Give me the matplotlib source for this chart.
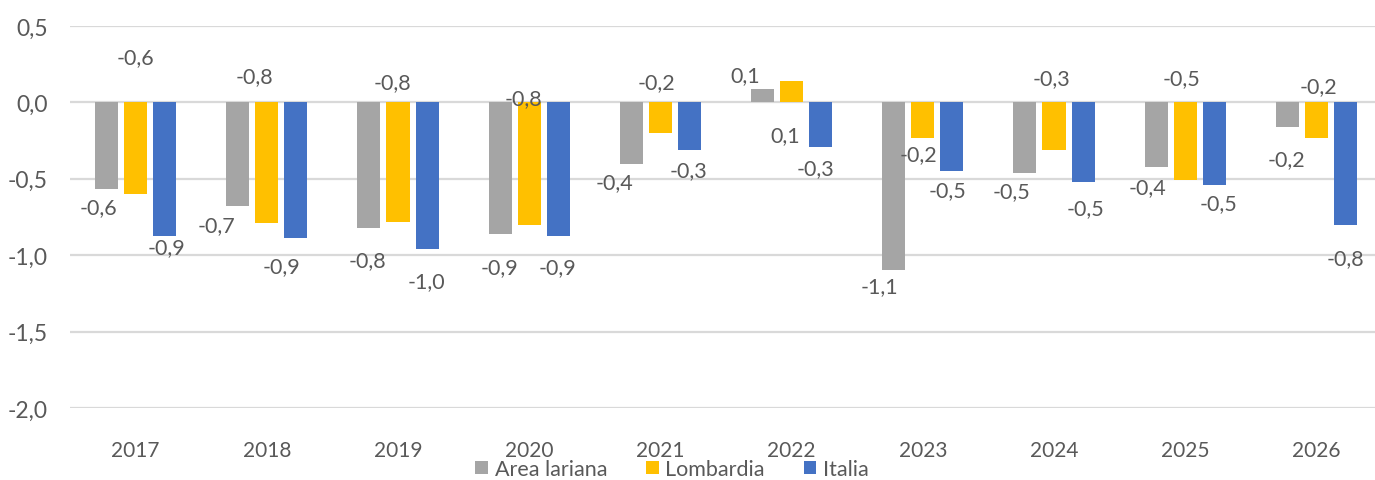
import numpy as np
import matplotlib
matplotlib.use("Agg")
import matplotlib.pyplot as plt

plt.rcParams['font.family'] = ['Lato', 'DejaVu Sans']

years = ['2017', '2018', '2019', '2020', '2021', '2022', '2023', '2024', '2025', '2026']
series_names = ['Area lariana', 'Lombardia', 'Italia']
area_lariana = [-0.57, -0.68, -0.82, -0.86, -0.40, 0.09, -1.10, -0.46, -0.42, -0.16]
lombardia = [-0.60, -0.79, -0.78, -0.80, -0.20, 0.14, -0.23, -0.31, -0.51, -0.23]
italia = [-0.875, -0.89, -0.96, -0.875, -0.31, -0.29, -0.45, -0.52, -0.54, -0.80]
colors = ['#A5A5A5', '#FFC000', '#4472C4']

# label offsets from bar end, in pixels (hand placed in the original)
gray_dx = [-8, -21, -1, -1, -17, -17, -14, -13, -9, -1]
gray_dy = [-18, -19, -32, -33, -19, 14, -16, -18, -21, -32]
yel_dx = [0, -12, -6, -6, -4, -6, -4, -3, -4, 2]
yel_dy = [137, 147, 139, 127, 51, -54, -17, 72, 102, 51]
blue_dx = [2, -14, -1, -1, -1, -5, -4, 2, 4, 0]
blue_dy = [-11, -28, -32, -31, -20, -21, -19, -26, -18, -33]

txt_col = '#595959'

fig = plt.figure(figsize=(13.75, 4.81), dpi=100)
ax = fig.add_axes([70/1375, 72/481, 1312/1375, 382/481])

x = np.arange(len(years))
slot = 0.222
width = 0.176
data = [area_lariana, lombardia, italia]
offs = [(gray_dx, gray_dy), (yel_dx, yel_dy), (blue_dx, blue_dy)]

for k, (vals, col, name) in enumerate(zip(data, colors, series_names)):
    xs = x + (k - 1) * slot
    ax.bar(xs, vals, width, color=col, label=name, zorder=3)
    dxs, dys = offs[k]
    for xi, v, dx, dy in zip(xs, vals, dxs, dys):
        lab = ('%.1f' % v).replace('.', ',')
        ax.annotate(lab, (xi, v), xytext=(dx, dy), textcoords='offset pixels',
                    ha='center', va='center', fontsize=15.5, color=txt_col, zorder=4)

yt = [0.5, 0.0, -0.5, -1.0, -1.5, -2.0]
ax.set_xlim(-0.5, len(years) - 0.5)
ax.set_ylim(-2.0, 0.5)
ax.set_yticks(yt)
ax.set_yticklabels([('%.1f' % t).replace('.', ',') for t in yt])
ax.set_xticks(x)
ax.set_xticklabels(years)
ax.tick_params(axis='y', length=0, pad=16, labelsize=16.5, labelcolor=txt_col)
ax.tick_params(axis='x', length=0, pad=23, labelsize=15, labelcolor=txt_col)
ax.grid(axis='y', color='#D9D9D9', linewidth=1.6, zorder=0)
for s in ax.spines.values():
    s.set_visible(False)

fig.legend(loc='center', bbox_to_anchor=(672/1375, 1 - 470/481), ncol=3, frameon=False,
           fontsize=15.5, handlelength=0.6, handleheight=0.6, handletextpad=0.3,
           columnspacing=1.8, labelcolor=txt_col)

fig.savefig('out.png', dpi=100)
